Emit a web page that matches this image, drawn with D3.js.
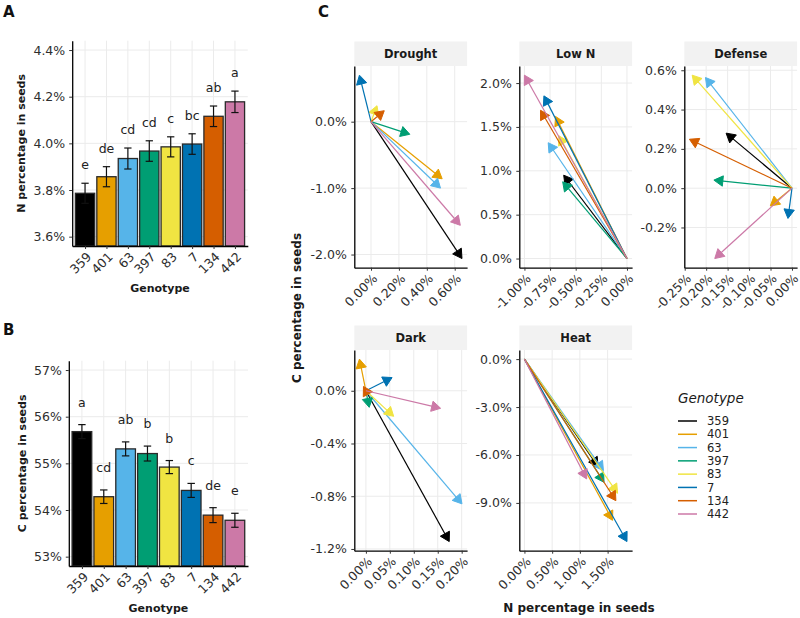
<!DOCTYPE html>
<html><head><meta charset="utf-8">
<script src="https://cdn.jsdelivr.net/npm/d3@7/dist/d3.min.js"></script>
<style>body{margin:0;background:#fff} svg{display:block;font-family:"DejaVu Sans",sans-serif}</style>
</head><body><svg id="c" width="800" height="618"></svg>
<script>
// ---------- data ----------
const genotypes = ["359","401","63","397","83","7","134","442"];
const colors    = ["#000000","#E69F00","#56B4E9","#009E73","#F0E442","#0072B2","#D55E00","#CC79A7"];

const nMean    = [3.786,3.857,3.935,3.967,3.985,3.997,4.116,4.178];
const nSE      = [0.043,0.043,0.045,0.044,0.043,0.044,0.044,0.046];
const nLetters = ["e","de","cd","cd","c","bc","ab","a"];
const nTicks   = [3.6,3.8,4.0,4.2,4.4];

const cMean    = [55.68,54.285,55.31,55.21,54.92,54.42,53.89,53.78];
const cSE      = [0.15,0.145,0.15,0.16,0.14,0.15,0.16,0.15];
const cLetters = ["a","cd","ab","b","b","c","de","e"];
const cTicks   = [53,54,55,56,57];

const conditions = ["Drought","Low N","Defense","Dark","Heat"];
// arrow end points (change in N %, change in C %), genotype order as above
const droughtN = [0.652,0.51,0.498,0.278,0.043,-0.083,0.095,0.64];
const droughtC = [-2.06,-0.86,-1.0,-0.19,0.24,0.70,0.165,-1.56];
const lowNN    = [-0.617,-0.697,-0.768,-0.627,-0.665,-0.81,-0.843,-1.00];
const lowNC    = [0.95,1.62,1.32,0.875,1.40,1.854,1.69,2.09];
const defenseN = [-0.1535,-0.0505,-0.2016,-0.182,-0.2326,-0.0093,-0.239,-0.18];
const defenseC = [0.28,-0.09,0.563,0.041,0.575,-0.154,0.249,-0.358];
const darkN    = [0.174,-0.0135,0.2006,0.007,0.058,0.0547,-0.005,0.156];
const darkC    = [-1.144,0.24,-0.858,-0.126,-0.194,0.10,0.033,-0.133];
const heatN    = [1.327,1.589,1.425,1.436,1.68,1.849,1.649,1.122];
const heatC    = [-6.73,-10.09,-6.98,-7.71,-8.4,-11.42,-8.86,-7.5];

const droughtXTicks = [0,0.2,0.4,0.6],               droughtYTicks = [-2,-1,0];
const lowNXTicks    = [-1,-0.75,-0.5,-0.25,0],       lowNYTicks    = [0,0.5,1,1.5,2];
const defenseXTicks = [-0.25,-0.2,-0.15,-0.1,-0.05,0], defenseYTicks = [-0.2,0,0.2,0.4,0.6];
const darkXTicks    = [0,0.05,0.1,0.15,0.2],         darkYTicks    = [-1.2,-0.8,-0.4,0];
const heatXTicks    = [0,0.5,1,1.5],                 heatYTicks    = [-9,-6,-3,0];

// ---------- helpers ----------
const svg = d3.select("#c");
const TXT = "#2e2e2e", GRID = "#ebebeb";
const FONT = "'DejaVu Sans', sans-serif";

function styleAxis(g, fs){
  g.select(".domain").attr("stroke","#000").attr("stroke-width",1.3);
  g.selectAll(".tick line").attr("stroke","#333").attr("stroke-width",1);
  g.selectAll(".tick text").attr("fill",TXT).attr("font-size",fs).attr("font-family",FONT);
}
function rotateX(g){
  g.selectAll(".tick text")
    .attr("x",0).attr("y",0).attr("dy","0.75em")
    .attr("text-anchor","end")
    .attr("transform","translate(0,5) rotate(-45)");
}

// ---------- bar panels ----------
function barPanel(o){
  const x = d3.scalePoint().domain(genotypes).range([o.x0,o.x1]).padding(0.6);
  const step = x.step();
  const lo = o.ticks[0], hi = o.ticks[o.ticks.length-1], ex = (hi-lo)*0.05;
  const y = d3.scaleLinear().domain([lo-ex, hi+ex]).range([o.y1,o.y0]);
  const g = svg.append("g");
  g.selectAll(".hg").data(o.ticks).join("line")
    .attr("x1",o.x0).attr("x2",o.x1).attr("y1",d=>y(d)).attr("y2",d=>y(d))
    .attr("stroke",GRID).attr("stroke-width",1);
  g.selectAll(".vg").data(genotypes).join("line")
    .attr("x1",d=>x(d)).attr("x2",d=>x(d)).attr("y1",o.y0).attr("y2",o.y1)
    .attr("stroke",GRID).attr("stroke-width",1);
  g.selectAll(".bar").data(genotypes).join("rect")
    .attr("x",d=>x(d)-0.45*step).attr("width",0.9*step)
    .attr("y",(d,i)=>y(o.means[i])).attr("height",(d,i)=>o.y1-y(o.means[i]))
    .attr("fill",(d,i)=>colors[i]).attr("stroke","#2a2a2a").attr("stroke-width",1.3);
  const cw = 0.17*step;
  genotypes.forEach((d,i)=>{
    const yt = y(o.means[i]+o.ses[i]), yb = y(o.means[i]-o.ses[i]), cx = x(d);
    g.append("line").attr("x1",cx).attr("x2",cx).attr("y1",yt).attr("y2",yb).attr("stroke","#111").attr("stroke-width",1.2);
    g.append("line").attr("x1",cx-cw).attr("x2",cx+cw).attr("y1",yt).attr("y2",yt).attr("stroke","#111").attr("stroke-width",1.2);
    g.append("line").attr("x1",cx-cw).attr("x2",cx+cw).attr("y1",yb).attr("y2",yb).attr("stroke","#111").attr("stroke-width",1.2);
    g.append("text").attr("x",cx).attr("y",yt-o.letterOff).attr("text-anchor","middle")
      .attr("font-size",12.5).attr("fill","#222").text(o.letters[i]);
  });
  const ya = g.append("g").attr("transform",`translate(${o.x0},0)`)
    .call(d3.axisLeft(y).tickValues(o.ticks).tickSize(3).tickSizeOuter(0).tickPadding(4).tickFormat(o.fmt));
  styleAxis(ya,12.5);
  const xa = g.append("g").attr("transform",`translate(0,${o.y1})`)
    .call(d3.axisBottom(x).tickSize(3).tickSizeOuter(0));
  styleAxis(xa,12.5); rotateX(xa);
  g.append("text").attr("transform",`translate(${o.ytX},${(o.y0+o.y1)/2}) rotate(-90)`)
    .attr("text-anchor","middle").attr("font-weight","bold").attr("font-size",11).attr("fill","#1a1a1a").text(o.ytitle);
  g.append("text").attr("x",(o.x0+o.x1)/2).attr("y",o.xtY).attr("text-anchor","middle")
    .attr("font-weight","bold").attr("font-size",11).attr("fill","#1a1a1a").text("Genotype");
  g.append("text").attr("x",o.lx).attr("y",o.ly).attr("font-weight","bold").attr("font-size",15).attr("fill","#111").text(o.label);
}

barPanel({x0:72.2,x1:247.8,y0:40.7,y1:246,ticks:nTicks,fmt:d=>d3.format(".1f")(d)+"%",
  means:nMean,ses:nSE,letters:nLetters,letterOff:14,ytitle:"N percentage in seeds",ytX:25,xtY:292,label:"A",lx:3,ly:17});
barPanel({x0:68.8,x1:248,y0:360.7,y1:566,ticks:cTicks,fmt:d=>d3.format(".0f")(d)+"%",
  means:cMean,ses:cSE,letters:cLetters,letterOff:18,ytitle:"C percentage in seeds",ytX:25.5,xtY:612,label:"B",lx:3,ly:335});

// ---------- facet arrow panels ----------
const facetData = [
  {name:conditions[0], xs:droughtN, ys:droughtC, xt:droughtXTicks, yt:droughtYTicks, col:0,row:0},
  {name:conditions[1], xs:lowNN,    ys:lowNC,    xt:lowNXTicks,    yt:lowNYTicks,    col:1,row:0},
  {name:conditions[2], xs:defenseN, ys:defenseC, xt:defenseXTicks, yt:defenseYTicks, col:2,row:0},
  {name:conditions[3], xs:darkN,    ys:darkC,    xt:darkXTicks,    yt:darkYTicks,    col:0,row:1},
  {name:conditions[4], xs:heatN,    ys:heatC,    xt:heatXTicks,    yt:heatYTicks,    col:1,row:1},
];
const colLeft = [354.3,519.3,684.3], panelW = 112.8;
const rowTop = [66,350], panelH = [201.7,200.7], stripH = 24.5;

function expand(vals){
  const e = d3.extent(vals.concat([0])); const p = (e[1]-e[0])*0.05; return [e[0]-p, e[1]+p];
}
facetData.forEach(f=>{
  const L = colLeft[f.col], R = L+panelW, T = rowTop[f.row], B = T+panelH[f.row];
  const x = d3.scaleLinear().domain(expand(f.xs)).range([L,R]);
  const y = d3.scaleLinear().domain(expand(f.ys)).range([B,T]);
  const g = svg.append("g");
  g.append("rect").attr("x",L).attr("y",T-stripH).attr("width",panelW).attr("height",stripH).attr("fill","#f2f2f2");
  g.append("text").attr("x",(L+R)/2).attr("y",T-stripH/2).attr("dy","0.36em").attr("text-anchor","middle")
    .attr("font-weight","bold").attr("font-size",11.5).attr("fill","#1a1a1a").text(f.name);
  g.selectAll(".vg").data(f.xt).join("line").attr("x1",d=>x(d)).attr("x2",d=>x(d)).attr("y1",T).attr("y2",B)
    .attr("stroke",GRID).attr("stroke-width",1);
  g.selectAll(".hg").data(f.yt).join("line").attr("x1",L).attr("x2",R).attr("y1",d=>y(d)).attr("y2",d=>y(d))
    .attr("stroke",GRID).attr("stroke-width",1);
  const ox = x(0), oy = y(0), HL = 9, HW = HL*Math.tan(Math.PI/6);
  genotypes.forEach((gname,i)=>{
    const tx = x(f.xs[i]), ty = y(f.ys[i]);
    const dx = tx-ox, dy = ty-oy, len = Math.hypot(dx,dy) || 1;
    const ux = dx/len, uy = dy/len, px = -uy, py = ux;
    const bx = tx-ux*HL, by = ty-uy*HL;
    const lineEnd = len > HL ? [bx+ux*2, by+uy*2] : [ox,oy];
    g.append("line").attr("x1",ox).attr("y1",oy).attr("x2",lineEnd[0]).attr("y2",lineEnd[1])
      .attr("stroke",colors[i]).attr("stroke-width",1.2);
    g.append("path").attr("d",`M${tx},${ty}L${bx+px*HW},${by+py*HW}L${bx-px*HW},${by-py*HW}Z`)
      .attr("fill",colors[i]).attr("stroke",colors[i]).attr("stroke-width",1).attr("stroke-linejoin","miter");
  });
  const ya = g.append("g").attr("transform",`translate(${L},0)`)
    .call(d3.axisLeft(y).tickValues(f.yt).tickSize(3).tickSizeOuter(0).tickPadding(4.5)
      .tickFormat(d=>d3.format(".1f")(d).replace("−","-")+"%"));
  styleAxis(ya,12.5);
  const xa = g.append("g").attr("transform",`translate(0,${B})`)
    .call(d3.axisBottom(x).tickValues(f.xt).tickSize(3).tickSizeOuter(0)
      .tickFormat(d=>d3.format(".2f")(d).replace("−","-")+"%"));
  styleAxis(xa,12.5); rotateX(xa);
});
svg.append("text").attr("x",318).attr("y",17).attr("font-weight","bold").attr("font-size",15).attr("fill","#111").text("C");
svg.append("text").attr("transform",`translate(301,308) rotate(-90)`).attr("text-anchor","middle")
  .attr("font-weight","bold").attr("font-size",12).attr("fill","#1a1a1a").text("C percentage in seeds");
svg.append("text").attr("x",579).attr("y",611.5).attr("text-anchor","middle")
  .attr("font-weight","bold").attr("font-size",12).attr("fill","#1a1a1a").text("N percentage in seeds");

// ---------- legend ----------
const lg = svg.append("g");
lg.append("text").attr("x",678).attr("y",403).attr("font-style","italic").attr("font-size",13.5).attr("fill","#1a1a1a").text("Genotype");
const ly = d3.scalePoint().domain(genotypes).range([421,514]);
lg.selectAll(".k").data(genotypes).join("line")
  .attr("x1",678).attr("x2",697).attr("y1",d=>ly(d)).attr("y2",d=>ly(d))
  .attr("stroke",(d,i)=>colors[i]).attr("stroke-width",1.5);
lg.selectAll(".l").data(genotypes).join("text")
  .attr("x",707).attr("y",d=>ly(d)).attr("dy","0.36em").attr("font-size",11.5).attr("fill","#222").text(d=>d);
</script></body></html>
